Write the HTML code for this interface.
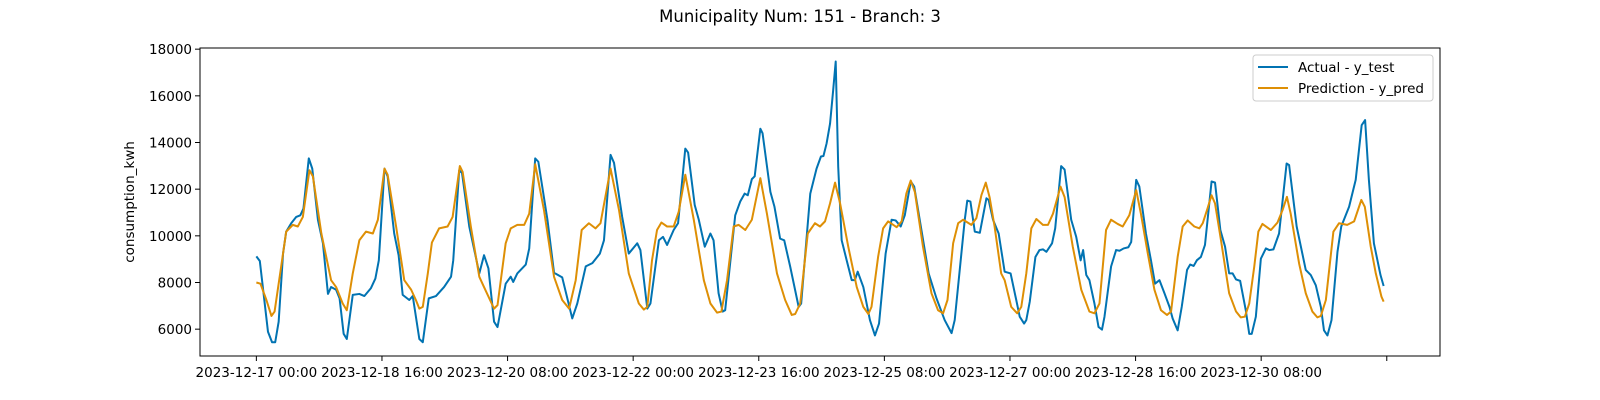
<!DOCTYPE html>
<html><head><meta charset="utf-8"><style>
html,body{margin:0;padding:0;background:#fff;}
svg{display:block;font-family:"DejaVu Sans","Liberation Sans",sans-serif;}
</style></head><body>
<svg id="chart" width="1600" height="400" viewBox="0 0 1600 400" xmlns="http://www.w3.org/2000/svg">
<rect width="1600" height="400" fill="#fff"/>
<text x="800" y="22" font-size="16.5" text-anchor="middle" fill="#000">Municipality Num: 151 - Branch: 3</text>
<text transform="translate(134,202) rotate(-90)" font-size="13.5" text-anchor="middle" fill="#000">consumption_kwh</text>
<g id="grid"></g>
<g id="series"></g>
<rect x="200" y="48" width="1240" height="308" fill="none" stroke="#000" stroke-width="1"/>
<g id="axes"></g>
<g>
<rect x="1253" y="55" width="180" height="46" rx="3" fill="#fff" fill-opacity="0.8" stroke="#ccc"/>
<line x1="1258" y1="67" x2="1288" y2="67" stroke="#0173b2" stroke-width="2"/>
<text x="1298" y="72" font-size="13.5">Actual - y_test</text>
<line x1="1258" y1="88" x2="1288" y2="88" stroke="#de8f05" stroke-width="2"/>
<text x="1298" y="93" font-size="13.5">Prediction - y_pred</text>
</g>
</svg>
<script>
const yTicks = [6000, 8000, 10000, 12000, 14000, 16000, 18000];
const xTickHours = [0, 40, 80, 120, 160, 200, 240, 280, 320, 360];
const xTickLabels = ["2023-12-17 00:00","2023-12-18 16:00","2023-12-20 08:00","2023-12-22 00:00","2023-12-23 16:00","2023-12-25 08:00","2023-12-27 00:00","2023-12-28 16:00","2023-12-30 08:00",""];
const actualHours = [0,1.1,3.7,5,6,7.1,8.5,9.5,11.1,12.7,14,15,16.7,17.8,19.6,21.2,22.8,23.8,25.4,26.5,27.8,28.8,30.7,32.8,34.4,36.5,37.9,39,40.8,41.8,43.9,45.3,46.6,48.7,49.8,51.9,53,54.9,57.2,59.8,62,62.7,64.6,65.5,67.8,71,72.5,73.9,75.7,76.8,79.4,81,81.8,83.1,85.8,86.9,88.8,89.8,92.7,94.8,97.4,100.6,102.2,104.9,107,109.4,110.7,112.8,113.9,116.5,118.6,121.3,122.3,124.5,125.5,128.2,129.5,130.8,132.9,134.3,136.6,137.5,139.6,140.9,142.8,144.6,145.6,147.2,148.5,149.3,152.5,154.1,155.5,156.5,157.8,158.7,160.5,161.2,163.7,165,166.8,168.1,170,172.7,173.5,176.4,178.4,179.8,180.6,181.6,182.7,183.7,184.5,185.3,186.4,188,189.6,190.6,191.5,193.3,195.4,197,198.3,200.4,202.3,203.6,205.2,206.5,208.4,209.5,211.8,214.1,216.6,219.2,221.4,222.4,225.6,226.4,227.4,228.8,230.4,232.5,233.2,234.6,236.4,238.3,240.2,242,243.1,244.5,245.2,246.3,248.1,249.4,250.5,251.6,253.4,254.4,256.3,257.4,259.5,261.1,262.5,263.3,264.3,265.3,266.9,268.2,269.3,270.1,272.2,273.8,274.9,276.2,277.7,278.6,280.2,281.2,283.3,284.9,286.2,287.6,289.2,290.8,291.8,293.4,294.7,296.4,297.4,298.5,299.5,300.8,302.1,304.2,305.3,307,308.5,309.8,310.9,312,313.3,315.1,316.2,317,318.3,319.9,321.5,322.6,323.9,325.7,328.1,328.9,331.3,334.2,335.8,337.4,339,340,341.1,342.4,344.3,345.5,348,350.1,352,353.1,354.3,355.9,358,359];
const actualValues = [9120,8920,5890,5440,5440,6320,9240,10180,10540,10810,10880,11170,13320,12880,10690,9680,7510,7805,7690,7320,5800,5580,7470,7510,7420,7760,8170,8950,12880,12550,10100,9170,7470,7250,7420,5580,5440,7320,7420,7810,8250,8950,12810,12690,10400,8390,9170,8610,6320,6090,7950,8250,8025,8390,8770,9460,13320,13175,10690,8420,8220,6460,7100,8690,8830,9240,9810,13470,13130,10810,9240,9680,9390,6880,7100,9810,9955,9610,10250,10540,13740,13570,11320,10690,9535,10100,9810,7540,6755,6810,10880,11470,11810,11740,12430,12550,14590,14400,11885,11245,9880,9810,8685,6955,7100,11810,12880,13400,13420,13960,14810,16250,17470,12960,9810,8950,8100,8100,8465,7805,6390,5730,6240,9240,10690,10660,10400,10880,12330,12110,10250,8390,7320,6390,5830,6390,10690,11510,11470,10180,10130,11610,11540,10690,10100,8465,8390,7250,6535,6240,6390,7175,9095,9390,9420,9315,9680,10320,12990,12840,10690,9955,8950,9390,8320,8100,7100,6095,5980,6535,8685,9390,9360,9460,9510,9735,12400,12110,10100,8950,7950,8100,7540,6955,6460,5950,6955,8540,8770,8710,8950,9095,9610,12330,12280,10250,9535,8390,8390,8130,8070,6810,5800,5800,6535,9020,9460,9390,9420,10100,13100,13030,10400,8540,8320,7880,6955,5950,5730,6390,9315,10400,11245,12400,14740,14960,12400,9680,8320,7850];
const predHours = [0,1.3,3.2,4.8,5.8,7.9,9.5,11.6,13.2,14.8,16.9,18,20.7,23.8,25.4,27.5,28.8,30.7,32.8,34.9,37.1,38.7,40.8,41.8,44.5,47.1,49.3,50.8,51.9,53,54.6,55.9,58.2,60.9,62.5,64.8,65.7,68.3,71,72.5,75.7,76.8,79.4,81,83.1,85.3,86.9,88.8,91.6,94.8,97.4,99.6,101.7,103.6,105.9,108,109.6,112.8,115.5,118.6,121.8,123.4,124.5,126,127.6,129,130.8,132.9,134.5,136.6,139.3,142.5,144.6,146.7,148.1,149.9,152,153.6,155.7,157.8,160.5,162.6,165.8,168.4,170.5,171.6,173.2,175.6,177.9,179.5,181.1,182.7,184.3,185.9,188.5,191.2,193.3,194.9,195.9,198,199.6,201.2,203.9,205.5,207,208.4,209.7,212.3,215,217.1,218.7,220.1,221.9,223.5,225.1,227.7,229.3,230.9,232.3,233.5,235.1,237.2,238.3,240.4,242.3,243.6,245.2,246.8,248.4,250.5,252.1,253.7,256.1,257.4,260,262.7,265.3,266.9,268.5,270.6,272.2,274.3,275.9,278,280.2,281.7,283.9,286,288.1,290,291.3,293.4,295,296.6,298.7,300.3,301.4,302.9,304.2,305.3,307.2,309.8,312,313.5,314.8,316.2,317.8,319.1,320.4,323.1,325.2,326.8,328.2,329.4,332.1,334.2,336.3,337.9,339,340.6,343,344.8,347.4,349.6,351.9,353,354.9,356.5,358.3,359];
const predValues = [8000,7950,7250,6565,6755,8685,10180,10470,10400,10810,12810,12550,10100,8100,7805,7100,6810,8390,9810,10180,10100,10690,12880,12620,10400,8100,7690,7250,6880,6955,8390,9710,10320,10400,10810,12990,12740,10400,8245,7805,6880,7030,9680,10320,10470,10470,10950,13070,11100,8245,7250,6880,8100,10250,10540,10320,10540,12880,11100,8390,7100,6840,6955,8950,10250,10570,10400,10400,11030,12620,10690,8100,7100,6710,6755,8100,10400,10470,10250,10690,12470,10950,8390,7250,6610,6650,7100,10100,10540,10400,10620,11390,12280,11390,9535,7805,6955,6650,6955,9095,10320,10620,10370,10620,11810,12370,11885,9535,7540,6810,6680,7250,9680,10540,10690,10470,10760,11740,12280,11660,10400,8390,8100,6955,6680,6955,8390,10320,10720,10470,10470,10950,12110,11660,9535,7690,6755,6680,7100,10250,10690,10510,10400,10880,11960,10950,9240,7690,6810,6610,6755,9095,10400,10660,10400,10320,10540,11170,11740,11390,9810,7540,6755,6505,6535,7100,8685,10180,10510,10250,10570,11100,11670,10950,8800,7540,6755,6505,6565,7250,10180,10540,10470,10620,11540,11245,9535,8390,7395,7180];

const X0 = 200, X1 = 1440, Y0 = 48, Y1 = 356;
const hMin = -17.95, hMax = 376.95, vMin = 4850, vMax = 18050;
function xScale(h){ return X0 + (h - hMin) / (hMax - hMin) * (X1 - X0); }
function yScale(v){ return Y1 - (v - vMin) / (vMax - vMin) * (Y1 - Y0); }
const NS = "http://www.w3.org/2000/svg";
const axes = document.getElementById('axes');
const series = document.getElementById('series');

yTicks.forEach(function(t){
  const y = yScale(t);
  const tk = document.createElementNS(NS,'line');
  tk.setAttribute('x1', X0-5); tk.setAttribute('x2', X0); tk.setAttribute('y1', y); tk.setAttribute('y2', y);
  tk.setAttribute('stroke','#000');
  
  
  axes.appendChild(tk);
  const lb = document.createElementNS(NS,'text');
  lb.setAttribute('x', X0-8); lb.setAttribute('y', y+5);
  lb.setAttribute('text-anchor','end'); lb.setAttribute('font-size','13.5');
  lb.textContent = t;
  
  
  axes.appendChild(lb);
});
xTickHours.forEach(function(h, i){
  const x = xScale(h);
  const tk = document.createElementNS(NS,'line');
  tk.setAttribute('x1', x); tk.setAttribute('x2', x); tk.setAttribute('y1', Y1); tk.setAttribute('y2', Y1+5);
  tk.setAttribute('stroke','#000');
  
  
  axes.appendChild(tk);
  if (xTickLabels[i]) {
    const lb = document.createElementNS(NS,'text');
    lb.setAttribute('x', x); lb.setAttribute('y', Y1+21);
    lb.setAttribute('text-anchor','middle'); lb.setAttribute('font-size','13.5');
    lb.textContent = xTickLabels[i];
    
    
    axes.appendChild(lb);
  }
});
function drawLine(hours, vals, color, name){
  let d = '';
  for (let i = 0; i < hours.length; i++) {
    d += (i ? 'L' : 'M') + xScale(hours[i]).toFixed(2) + ',' + yScale(vals[i]).toFixed(2);
  }
  const p = document.createElementNS(NS,'path');
  p.setAttribute('d', d); p.setAttribute('fill','none');
  p.setAttribute('stroke', color); p.setAttribute('stroke-width','2');
  p.setAttribute('stroke-linejoin','round');
  
  
  series.appendChild(p);
}
drawLine(actualHours, actualValues, '#0173b2', 'actual-line');
drawLine(predHours, predValues, '#de8f05', 'prediction-line');
</script>
</body></html>
